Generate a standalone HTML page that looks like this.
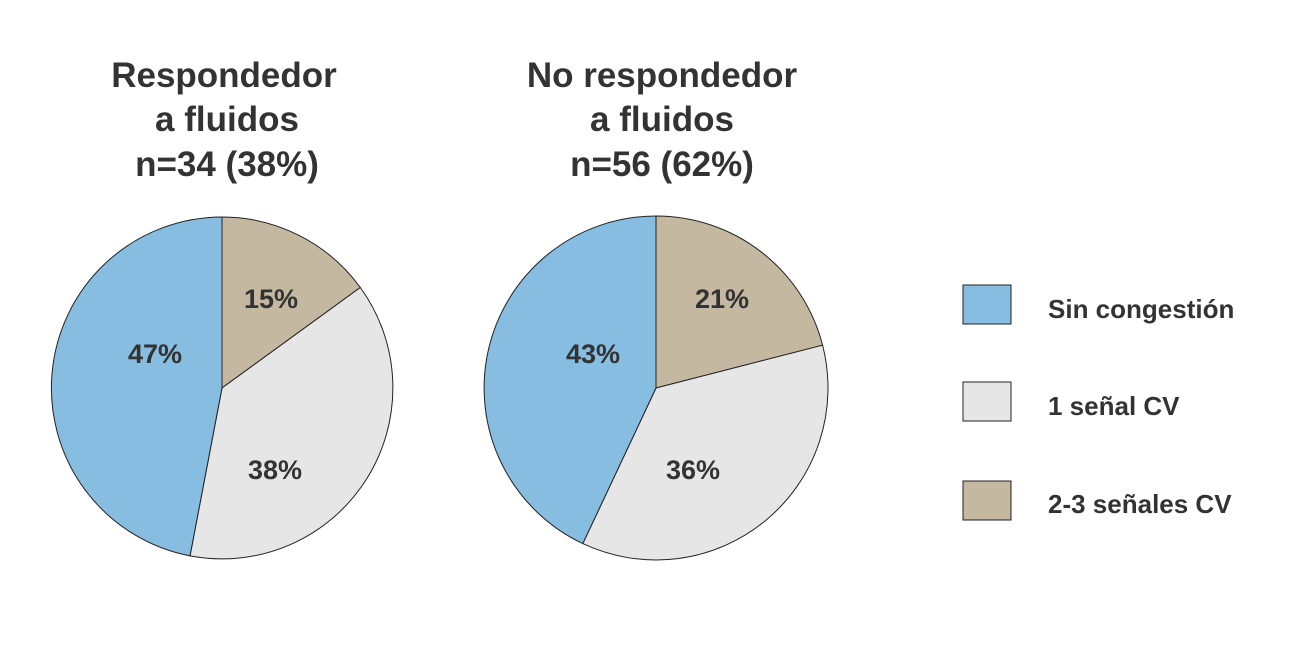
<!DOCTYPE html>
<html><head><meta charset="utf-8"><style>
html,body{margin:0;padding:0;background:#fff;}
svg text{font-family:"Liberation Sans","DejaVu Sans",sans-serif;font-weight:bold;fill:#333;}
</style></head><body>
<svg width="1312" height="640" viewBox="0 0 1312 640" xmlns="http://www.w3.org/2000/svg">
<rect width="1312" height="640" fill="#fff"/>
<g font-size="35" text-anchor="middle">
<text x="224" y="87">Respondedor</text>
<text x="227" y="131">a fluidos</text>
<text x="227" y="176">n=34 (38%)</text>
<text x="662" y="87">No respondedor</text>
<text x="662" y="131">a fluidos</text>
<text x="662" y="176">n=56 (62%)</text>
</g>
<g stroke="#222" stroke-width="1">
<path d="M222,388 L222,217 A171,171 0 0 1 360.3,287.5 Z" fill="#c4b8a0"/>
<path d="M222,388 L360.3,287.5 A171,171 0 0 1 190,555.9 Z" fill="#e6e6e6"/>
<path d="M222,388 L190,555.9 A171,171 0 0 1 222,217 Z" fill="#86bde0"/>
<path d="M656,388 L656,216 A172,172 0 0 1 822.6,345.2 Z" fill="#c4b8a0"/>
<path d="M656,388 L822.6,345.2 A172,172 0 0 1 582.8,543.6 Z" fill="#e6e6e6"/>
<path d="M656,388 L582.8,543.6 A172,172 0 0 1 656,216 Z" fill="#86bde0"/>
</g>
<g font-size="27" text-anchor="middle">
<text x="271" y="308">15%</text>
<text x="155" y="363">47%</text>
<text x="275" y="479">38%</text>
<text x="722" y="308">21%</text>
<text x="593" y="363">43%</text>
<text x="693" y="479">36%</text>
</g>
<g stroke="#222" stroke-width="1">
<rect x="963" y="285" width="48" height="39" fill="#86bde0"/>
<rect x="963" y="382" width="48" height="39" fill="#e6e6e6"/>
<rect x="963" y="481" width="48" height="39" fill="#c4b8a0"/>
</g>
<g font-size="26">
<text x="1048" y="318">Sin congestión</text>
<text x="1048" y="415">1 señal CV</text>
<text x="1048" y="513">2-3 señales CV</text>
</g>
</svg>
</body></html>
